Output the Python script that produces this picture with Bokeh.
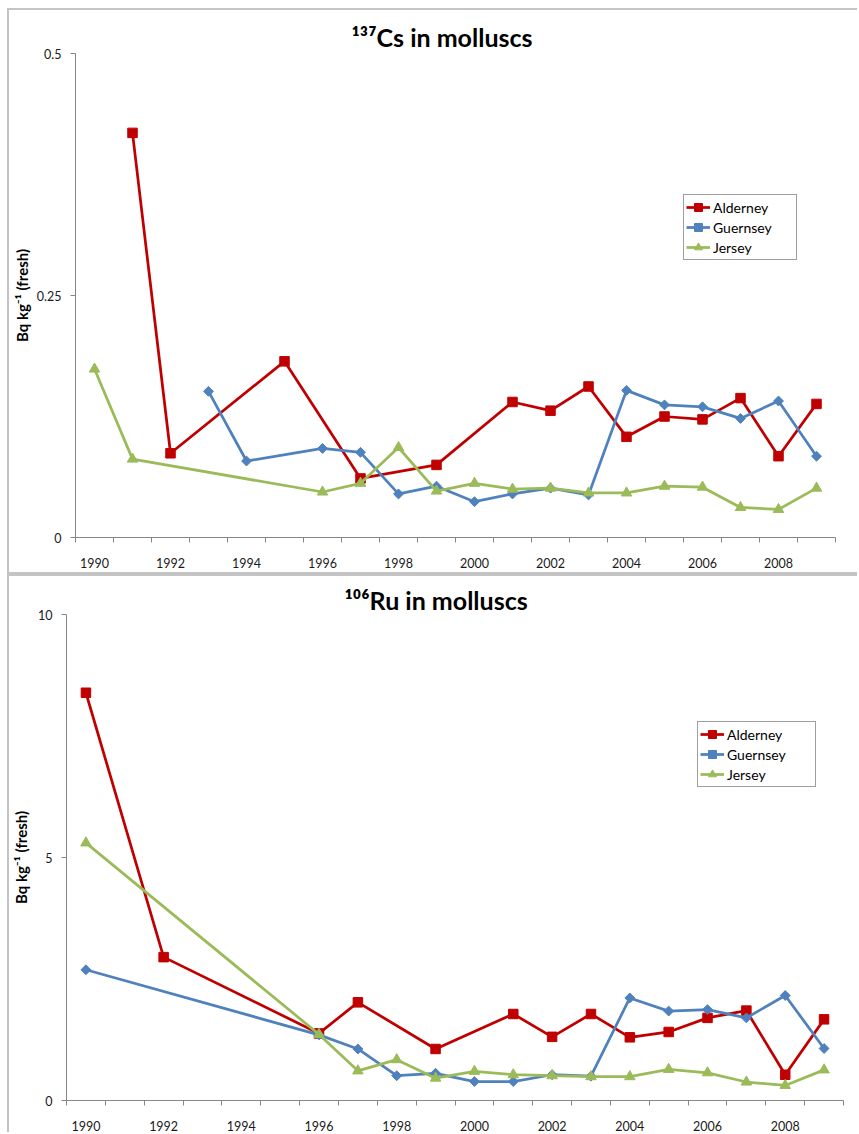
import math
from bokeh.plotting import figure
from bokeh.models import Range1d, FixedTicker, Legend, LegendItem, ColumnDataSource
from bokeh.embed import file_html
from bokeh.resources import INLINE

# ---------------- data ----------------
years = list(range(1990, 2010))
series_names = ["Alderney", "Guernsey", "Jersey"]

# 137Cs in molluscs (Bq kg-1 fresh)
cs_alderney = [None, 0.418, 0.087, None, None, 0.182, None, 0.061, None, 0.075,
               None, 0.140, 0.131, 0.156, 0.104, 0.125, 0.122, 0.144, 0.084, 0.138]
cs_guernsey = [None, None, None, 0.151, 0.079, None, 0.092, 0.088, 0.045, 0.053,
               0.037, 0.045, 0.051, 0.044, 0.152, 0.137, 0.135, 0.123, 0.141, 0.084]
cs_jersey = [0.174, 0.081, None, None, None, None, 0.047, 0.056, 0.093, 0.048,
             0.056, 0.050, 0.051, 0.046, 0.046, 0.053, 0.052, 0.031, 0.029, 0.051]

# 106Ru in molluscs (Bq kg-1 fresh)
ru_alderney = [8.39, None, 2.95, None, None, None, 1.38, 2.02, None, 1.06,
               None, 1.78, 1.31, 1.78, 1.30, 1.41, 1.70, 1.85, 0.53, 1.67]
ru_guernsey = [2.69, None, None, None, None, None, 1.35, 1.06, 0.51, 0.56,
               0.39, 0.39, 0.53, 0.50, 2.11, 1.84, 1.87, 1.70, 2.16, 1.07]
ru_jersey = [5.30, None, None, None, None, None, 1.36, 0.61, 0.84, 0.46,
             0.60, 0.53, 0.51, 0.49, 0.49, 0.64, 0.57, 0.38, 0.31, 0.63]

x_tick_years = [1990, 1992, 1994, 1996, 1998, 2000, 2002, 2004, 2006, 2008]
x_tick_labels = ["1990", "1992", "1994", "1996", "1998", "2000", "2002", "2004", "2006", "2008"]
cs_y_ticks = [0, 0.25, 0.5]
cs_y_labels = ["0", "0.25", "0.5"]
ru_y_ticks = [0, 5, 10]
ru_y_labels = ["0", "5", "10"]

cs_title = "\u00b9\u00b3\u2077Cs in molluscs"
ru_title = "\u00b9\u2070\u2076Ru in molluscs"
y_label = "Bq kg\u207b\u00b9 (fresh)"

# ---------------- style ----------------
FONT = "Lato"
COLORS = ["#C00000", "#4F81BD", "#9BBB59"]
MARKERS = [("square", 9.5, 0.0), ("square", 7, math.pi / 4), ("triangle", 10.5, 0.0)]
AXIS_C = "#868686"
TEXT_C = "#1a1a1a"
BORDER = "2px solid #c4c4c4"


def pairs(vals):
    xs = [y for y, v in zip(years, vals) if v is not None]
    ys = [v for v in vals if v is not None]
    return xs, ys


def make_chart(height, ymax, yticks, ylabels, series, mb, x_standoff, ylab_standoff,
               title, title_offset, title_standoff, legend_loc, legend_label_w,
               styles, margin):
    p = figure(width=850, height=height, title=title,
               x_range=Range1d(1989.5, 2009.5), y_range=Range1d(0, ymax),
               output_backend="svg", toolbar_location=None,
               min_border_left=mb[0], min_border_right=mb[1],
               min_border_top=mb[2], min_border_bottom=mb[3])
    p.margin = margin
    p.styles = styles
    p.grid.visible = False
    p.outline_line_color = None
    p.background_fill_color = "white"
    p.border_fill_alpha = 0

    p.title.align = "left"
    p.title.offset = title_offset
    p.title.standoff = title_standoff
    p.title.text_font = FONT
    p.title.text_font_style = "bold"
    p.title.text_font_size = "25px"
    p.title.text_color = "#000000"

    xa = p.xaxis[0]
    xa.ticker = FixedTicker(ticks=x_tick_years,
                            minor_ticks=[y - 0.5 for y in years] + [years[-1] + 0.5])
    xa.major_label_overrides = {t: l for t, l in zip(x_tick_years, x_tick_labels)}
    xa.major_tick_in = 0
    xa.major_tick_out = 0
    xa.minor_tick_in = 0
    xa.minor_tick_out = 5
    xa.minor_tick_line_color = AXIS_C
    xa.axis_line_color = AXIS_C
    xa.major_label_text_font = FONT
    xa.major_label_text_font_size = "12.5px"
    xa.major_label_text_color = TEXT_C
    xa.major_label_standoff = x_standoff

    ya = p.yaxis[0]
    ya.ticker = FixedTicker(ticks=yticks)
    ya.major_label_overrides = {t: l for t, l in zip(yticks, ylabels)}
    ya.major_tick_in = 0
    ya.major_tick_out = 5
    ya.major_tick_line_color = AXIS_C
    ya.minor_tick_line_color = None
    ya.axis_line_color = AXIS_C
    ya.major_label_text_font = FONT
    ya.major_label_text_font_size = "12.5px"
    ya.major_label_text_color = TEXT_C
    ya.major_label_standoff = 9
    ya.axis_label = y_label
    ya.axis_label_text_font = FONT
    ya.axis_label_text_font_style = "bold"
    ya.axis_label_text_font_size = "15px"
    ya.axis_label_text_color = "#000000"
    ya.axis_label_standoff = ylab_standoff

    items = []
    for name, vals, color, (marker, size, ang) in zip(series_names, series, COLORS, MARKERS):
        xs, ys = pairs(vals)
        src = ColumnDataSource(dict(x=xs, y=ys))
        ln = p.line("x", "y", source=src, line_color=color, line_width=2.75)
        sc = p.scatter("x", "y", source=src, marker=marker, size=size, angle=ang,
                       fill_color=color, line_color=color)
        items.append(LegendItem(label=name, renderers=[ln, sc]))

    legend = Legend(items=items, location=legend_loc,
                    label_text_font=FONT, label_text_font_size="14px",
                    label_text_color="#000000",
                    glyph_width=24, glyph_height=20, label_height=20,
                    label_width=legend_label_w, label_standoff=3,
                    spacing=0, padding=2, margin=0,
                    border_line_color="#404040", border_line_width=1,
                    background_fill_color="white", background_fill_alpha=1)
    p.add_layout(legend)
    return p


p1 = make_chart(566, 0.5, cs_y_ticks, cs_y_labels,
                [cs_alderney, cs_guernsey, cs_jersey],
                (66, 24, 43, 39), 15, 3,
                cs_title, 276, 3,
                (608, 277), 81,
                {"border-left": BORDER, "border-top": BORDER, "border-bottom": BORDER},
                (8, 0, 0, 7))

p2 = make_chart(558, 10, ru_y_ticks, ru_y_labels,
                [ru_alderney, ru_guernsey, ru_jersey],
                (57, 16, 38, 34), 15, 5,
                ru_title, 278, 0,
                (631, 313), 86,
                {"border-left": BORDER, "border-top": BORDER},
                (0, 0, 0, 7))

open("out.html", "w").write(file_html([p1, p2], INLINE))
